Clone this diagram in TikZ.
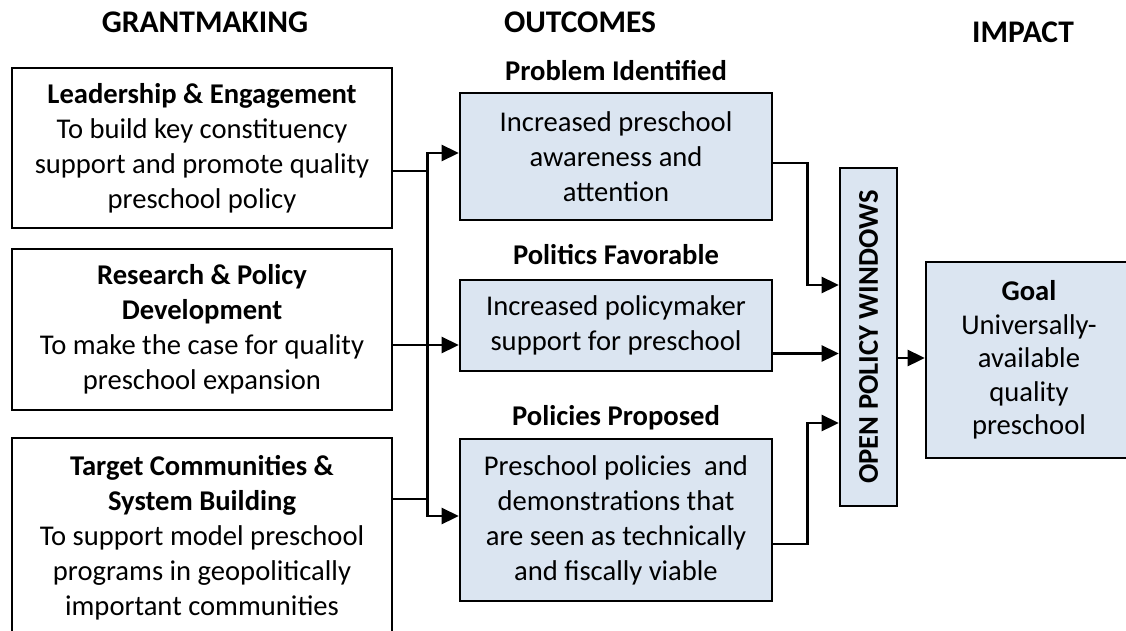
\documentclass[tikz,border=0pt]{standalone}
\usepackage{fontspec}
\setmainfont{Carlito}
\usepackage{tikz}
\usetikzlibrary{positioning,arrows.meta}
\definecolor{BoxBlue}{HTML}{DBE5F1}

\begin{document}
\begin{tikzpicture}[x=1pt,y=-1pt,line width=2.6pt,
  every node/.style={font=\fontsize{28.6}{35}\selectfont},
  grant/.style={draw,fill=white,align=center,minimum width=380pt,inner sep=0pt},
  outcome/.style={draw,fill=BoxBlue,align=center,minimum width=312pt,inner sep=0pt},
  head/.style={font=\fontsize{31.5}{36}\selectfont\bfseries,anchor=base,inner sep=0pt},
  lbl/.style={font=\fontsize{28.6}{35}\selectfont\bfseries,inner sep=0pt,text depth=0pt},
  arr/.style={-{Triangle[length=17pt,width=16pt]}}]
  \useasboundingbox (0,0) rectangle (1126,631);

  % column headings
  \node[head] (hGrant) at (205,33) {GRANTMAKING};
  \node[head] (hOut) at (580,33) {OUTCOMES};
  \node[head] (hImpact) at (1023,43) {IMPACT};

  % grantmaking strategies
  \node[grant,minimum height=160pt] (lead) at (202,148) {\textbf{Leadership \& Engagement}\\To build key constituency\\support and promote quality\\preschool policy};
  \node[grant,minimum height=161pt] (research) at (202,329.5) {\textbf{Research \& Policy}\\\textbf{Development}\\To make the case for quality\\preschool expansion};
  \node[grant,minimum height=200pt] (target) at (202,538) {\textbf{Target Communities \&}\\\textbf{System Building}\\To support model preschool\\programs in geopolitically\\important communities};

  % outcomes
  \node[outcome,minimum height=127pt] (aware) at (616,156.5) {Increased preschool\\awareness and\\attention};
  \node[outcome,minimum height=91pt] (support) at (616,325.5) {Increased policymaker\\support for preschool};
  \node[outcome,minimum height=162pt] (demo) at (616,520) {Preschool policies~ and\\demonstrations that\\are seen as technically\\and fiscally viable};
  \node[lbl,above=10pt of aware] (probLbl) {Problem Identified};
  \node[lbl,above=13pt of support] (polLbl) {Politics Favorable};
  \node[lbl,above=11pt of demo] (propLbl) {Policies Proposed};

  % policy windows and goal
  \node[draw,fill=BoxBlue,minimum width=57pt,minimum height=338pt,inner sep=0pt] (windows) at (868.5,337) {};
  \node[font=\fontsize{28.6}{30}\selectfont\bfseries,rotate=90] (windowsTxt) at (windows.center) {OPEN POLICY WINDOWS};
  \node[draw,fill=BoxBlue,align=center,minimum width=206pt,minimum height=196pt,inner sep=0pt,
    font=\fontsize{28.6}{33.5}\selectfont] (goal) at (1029,360) {\textbf{Goal}\\Universally-\\available\\quality\\preschool};

  % strategies feed the outcomes
  \coordinate (jTop) at ([xshift=34pt,yshift=-23pt]lead.east);
  \coordinate (jBot) at ([xshift=34pt,yshift=39pt]target.east);
  \coordinate (rsOut) at ([yshift=-15.5pt]research.east);
  \draw[arr] ([yshift=-23pt]lead.east) -- (jTop) |- ([yshift=3.5pt]aware.west);
  \draw (jTop) -- (jBot);
  \draw[arr] ([yshift=39pt]target.east) -- (jBot) |- ([yshift=4pt]demo.west);
  \draw[arr] (rsOut) -- (rsOut -| support.west);

  % outcomes open the windows
  \coordinate (spOut) at ([yshift=-28pt]support.east);
  \draw[arr] ([yshift=-6.5pt]aware.east) -- ++(34,0) |- ([yshift=52pt]windows.west);
  \draw[arr] (spOut) -- (spOut -| windows.west);
  \draw[arr] ([yshift=-24pt]demo.east) -- ++(34,0) |- ([yshift=-86pt]windows.west);

  \coordinate (glIn) at ([yshift=2pt]goal.west);
  \draw[arr] (glIn -| windows.east) -- (glIn);
\end{tikzpicture}
\end{document}
